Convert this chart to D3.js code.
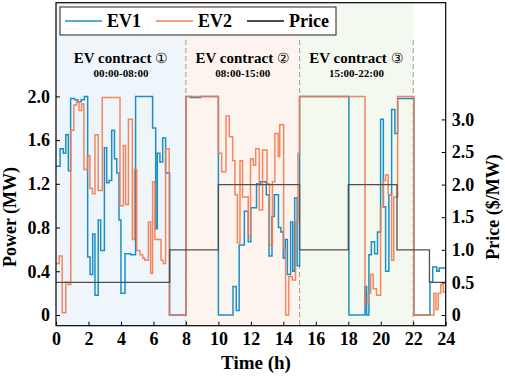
<!DOCTYPE html>
<html>
<head>
<meta charset="utf-8">
<script src="https://cdn.jsdelivr.net/npm/d3@7"></script>
<style>
  html, body { margin: 0; padding: 0; background: #fff; }
  svg { display: block; }
  text { font-family: "Liberation Serif", "Times New Roman", serif; font-weight: bold; fill: #000; }
</style>
</head>
<body>
<svg id="chart" width="505" height="377"></svg>
<script>
// ---------------- data ----------------
const hourTicks = [0, 2, 4, 6, 8, 10, 12, 14, 16, 18, 20, 22, 24];
const powerTicks = [0, 0.4, 0.8, 1.2, 1.6, 2.0];
const priceTicks = [0, 0.5, 1.0, 1.5, 2.0, 2.5, 3.0];

// EV1 power (MW): step change times (h) and values
const ev1Time = [0, 0.25, 0.45, 0.6, 0.76, 0.9, 1.15, 1.35, 1.55, 1.75, 1.95, 2.1, 2.26, 2.4, 2.6, 2.75, 2.98,
  3.12, 3.26, 3.43, 3.6, 3.74, 3.88, 4.0, 4.25, 4.6, 4.9, 5.95, 6.14, 6.24, 6.4, 6.57, 6.75, 7.0, 8.0, 8.3, 8.9,
  10.0, 10.9, 11.1, 11.28, 11.6, 11.84, 12.0, 12.35, 12.6, 12.95, 13.12, 13.3, 13.45, 13.7, 13.85, 14.0, 14.12,
  14.25, 14.45, 14.58, 14.7, 14.85, 15.0, 18.04, 19.03, 19.13, 19.27, 19.42, 19.62, 19.8, 19.99, 20.16, 20.3,
  20.5, 20.67, 20.87, 21.04, 22.04, 23.03, 23.2, 23.45, 23.6];
const ev1Power = [1.36, 1.52, 1.48, 1.65, 1.32, 1.98, 1.97, 1.95, 1.97, 2.0, 0.53, 0.37, 0.74, 0.18, 0.87, 0.59, 1.53,
  1.21, 1.23, 1.69, 1.43, 1.30, 0.87, 0.2, 0.56, 0.55, 2.0, 1.71, 0.79, 1.48, 1.40, 1.62, 1.30, 0, 2.0, 1.99, 2.0,
  0, 0.26, 0.04, 0.64, 0.95, 0.67, 0.98, 1.2, 1.22, 1.1, 0.54, 0.9, 1.1, 0.8, 0.76, 0.52, 0.69,
  0.37, 0.85, 0.4, 1.07, 0.45, 2.0, 0, 0.26, 0, 0.55, 0.67, 0.56, 0.76, 1.79, 0.99, 0.4,
  1.1, 1.88, 1.66, 1.98, 0, 0.3, 0.44, 0.4, 0.43];

// EV2 power (MW)
const ev2Time = [0, 0.2, 0.38, 0.6, 0.75, 0.91, 1.1, 1.27, 1.42, 1.58, 1.72, 1.93, 2.09, 2.24, 2.4, 2.6, 2.85,
  3.94, 4.15, 4.29, 4.46, 4.7, 4.83, 4.97, 5.17, 5.34, 5.48, 5.69, 5.83, 5.95, 6.09, 6.47, 6.61, 6.75, 6.97,
  8.0, 10.0, 10.2, 10.47, 10.67, 10.88, 11.02, 11.17, 11.33, 11.49, 11.84, 11.98, 12.15, 12.3, 12.52, 12.72,
  13.0, 13.15, 13.33, 13.48, 13.68, 13.78, 14.02, 14.14, 14.33, 14.55, 14.75, 14.9, 15.0, 19.03, 19.23, 19.38,
  19.54, 19.74, 19.99, 20.16, 20.3, 20.46, 20.67, 20.8, 21.04, 22.04, 23.27, 23.4, 23.54, 23.7, 23.85];
const ev2Power = [0.47, 0.54, 0.02, 0.3, 0.28, 1.69, 1.92, 1.95, 1.87, 1.93, 1.33, 1.46, 1.16, 1.11, 1.65, 1.14, 1.99,
  1.0, 1.55, 1.01, 1.79, 0.69, 1.33, 0.59, 0.55, 0.52, 0.5, 0.85, 0.38, 1.22, 0.69, 0.5, 0.47, 1.52, 0,
  2.0, 1.48, 1.31, 1.82, 1.63, 1.41, 1.1, 0.66, 1.41, 1.08, 0.72, 1.43, 1.37, 1.52, 0.96, 1.51,
  1.2, 0.64, 1.22, 1.66, 1.45, 1.74, 0.6, 0, 0.35, 0.32, 0.85, 1.48, 2.0, 0.1, 0.2, 0.37,
  0.24, 0.18, 0.99, 1.23, 1.28, 1.1, 0.5, 1.08, 2.0, 0, 0.2, 0.05, 0.2, 0.28, 0.21];

// Price ($/MW)
const priceTime = [0, 7, 10, 15, 18, 21, 23];
const priceValue = [0.5, 1.0, 2.0, 1.0, 2.0, 1.0, 0.5];

// Contract periods
const contractStart = [0, 8, 15];
const contractEnd = [8, 15, 22];
const contractName = ["EV contract", "EV contract", "EV contract"];
const contractMark = ["\u2460", "\u2461", "\u2462"];
const contractHours = ["00:00-08:00", "08:00-15:00", "15:00-22:00"];
const contractFill = ["#eff6fb", "#fdf4ef", "#f4f9f0"];

const seriesNames = ["EV1", "EV2", "Price"];
const seriesColors = ["#1b8fc6", "#f47a4e", "#505050"];

// ---------------- layout ----------------
const L = 56, R = 445.7, T = 2.7, B = 325.7;
const svg = d3.select("#chart");

const x = d3.scaleLinear().domain([0, 24]).range([L, R]);
const yL = d3.scaleLinear().domain([-0.098, 2.857]).range([B, T]);
const yR = d3.scaleLinear().domain([-0.164, 4.79]).range([B, T]);

// backgrounds
svg.selectAll("rect.bg").data(contractStart).join("rect")
  .attr("x", (d) => x(d)).attr("y", T)
  .attr("width", (d, i) => x(contractEnd[i]) - x(d)).attr("height", B - T)
  .attr("fill", (d, i) => contractFill[i]);

// dashed boundaries
svg.selectAll("line.sep").data([8, 15, 22]).join("line")
  .attr("x1", (d) => x(d)).attr("x2", (d) => x(d))
  .attr("y1", 40).attr("y2", B)
  .attr("stroke", "#9a9a9a").attr("stroke-width", 1)
  .attr("stroke-dasharray", "5,3");

// step lines
function steps(times, vals) {
  const pts = times.map((t, i) => [t, vals[i]]);
  pts.push([24, vals[vals.length - 1]]);
  return pts;
}
const stepLine = (ys) => d3.line().x((d) => x(d[0])).y((d) => ys(d[1])).curve(d3.curveStepAfter);

svg.append("path").datum(steps(ev1Time, ev1Power))
  .attr("d", stepLine(yL)).attr("fill", "none")
  .attr("stroke", seriesColors[0]).attr("stroke-width", 1.5);
svg.append("path").datum(steps(ev2Time, ev2Power))
  .attr("d", stepLine(yL)).attr("fill", "none")
  .attr("stroke", seriesColors[1]).attr("stroke-width", 1.5).attr("stroke-opacity", 0.9);
svg.append("path").datum(steps(priceTime, priceValue))
  .attr("d", stepLine(yR)).attr("fill", "none")
  .attr("stroke", seriesColors[2]).attr("stroke-width", 1.3);

// contract labels
contractStart.forEach((s, i) => {
  const cx = x((s + contractEnd[i]) / 2);
  const t = svg.append("text").attr("x", cx).attr("y", 63).attr("text-anchor", "middle")
    .style("font-size", "15px");
  t.append("tspan").text(contractName[i] + " ");
  t.append("tspan").style("font-weight", "normal").style("font-family", '"DejaVu Serif", serif')
    .style("font-size", "14px").text(contractMark[i]);
  svg.append("text").attr("x", cx).attr("y", 77).attr("text-anchor", "middle")
    .style("font-size", "11px").text(contractHours[i]);
});

// axes
const fmt = (d) => (d === 0 ? "0" : d.toFixed(1));
const gL = svg.append("g").attr("transform", `translate(${L},0)`)
  .call(d3.axisLeft(yL).tickValues(powerTicks).tickFormat(fmt).tickSize(-4).tickPadding(6));
const gR = svg.append("g").attr("transform", `translate(${R},0)`)
  .call(d3.axisRight(yR).tickValues(priceTicks).tickFormat(fmt).tickSize(-4).tickPadding(6));
const gB = svg.append("g").attr("transform", `translate(0,${B})`)
  .call(d3.axisBottom(x).tickValues(hourTicks).tickFormat(d3.format("d")).tickSize(-4).tickPadding(7));
[gL, gR, gB].forEach((g) => {
  g.select(".domain").remove();
  g.selectAll("text").style("font-size", "18px").style("font-family", '"Liberation Serif", serif').style("font-weight", "bold");
  g.selectAll("line").attr("stroke", "#000");
});

// frame
svg.append("rect").attr("x", L).attr("y", T).attr("width", R - L).attr("height", B - T)
  .attr("fill", "none").attr("stroke", "#000").attr("stroke-width", 1.2);

// axis titles
svg.append("text").attr("transform", "translate(16,217) rotate(-90)").attr("text-anchor", "middle")
  .style("font-size", "18px").text("Power (MW)");
svg.append("text").attr("transform", "translate(499,207) rotate(-90)").attr("text-anchor", "middle")
  .style("font-size", "18px").text("Price ($/MW)");
svg.append("text").attr("x", 256).attr("y", 369).attr("text-anchor", "middle")
  .style("font-size", "19px").text("Time (h)");

// legend
const lg = svg.append("g");
lg.append("rect").attr("x", 60).attr("y", 7).attr("width", 276).attr("height", 28)
  .attr("fill", "#fff").attr("stroke", "#222").attr("stroke-width", 1);
const legendX = [65, 156, 247];
seriesNames.forEach((n, i) => {
  lg.append("line").attr("x1", legendX[i]).attr("x2", legendX[i] + 37).attr("y1", 21).attr("y2", 21)
    .attr("stroke", i === 2 ? "#111" : seriesColors[i]).attr("stroke-width", 1.5);
  lg.append("text").attr("x", legendX[i] + 42).attr("y", 27).style("font-size", "18px").text(n);
});
</script>
</body>
</html>
